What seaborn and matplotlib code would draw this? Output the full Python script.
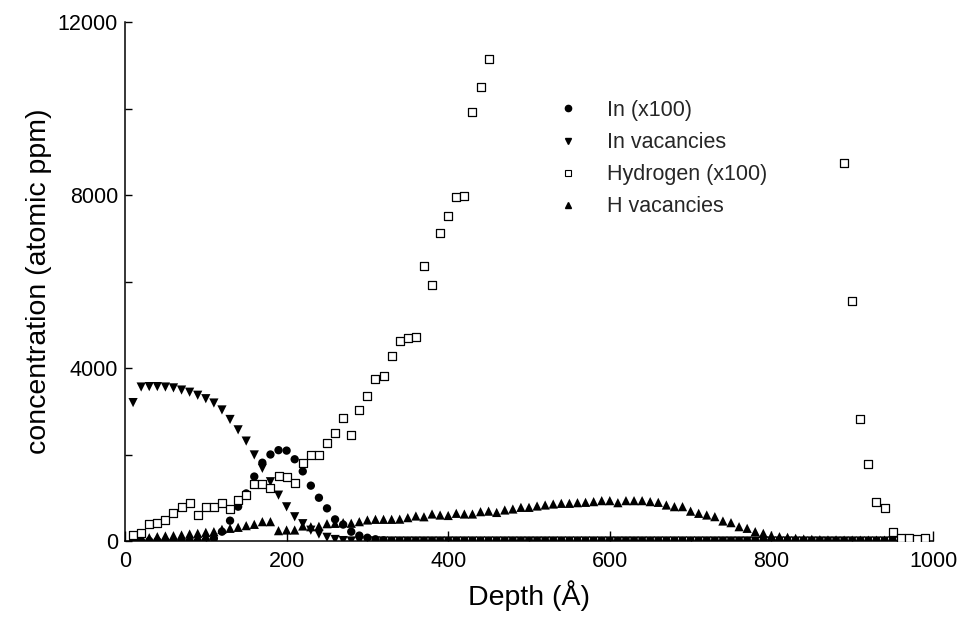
import numpy as np
import pandas as pd
import matplotlib
matplotlib.use("Agg")
import matplotlib.pyplot as plt
import seaborn as sns
from matplotlib.ticker import MultipleLocator
from matplotlib.lines import Line2D

# ---------------- data ----------------
depth_all = list(range(10, 1000, 10))  # 10 ... 990 Å

in_x100 = [0, 0, 0, 0, 0, 0, 0, 0, 0, 20, 60, 216, 470, 794, 1100, 1490, 1810, 2000,
           2100, 2090, 1890, 1610, 1280, 1000, 755, 500, 380, 215, 125, 75, 40, 15] + [0] * 67

in_vac = [3200, 3560, 3570, 3570, 3560, 3540, 3490, 3440, 3370, 3290, 3190, 3030, 2810,
          2570, 2310, 1990, 1680, 1370, 1060, 790, 560, 400, 250, 160, 85, 35, 10] + [0] * 72

h_vac = [46, 62, 77, 100, 116, 123, 139, 162, 177, 200, 216, 270, 293, 316, 355, 385,
         447, 447, 239, 254, 254, 347, 330, 340, 400, 408, 424, 410, 447, 486, 501, 501,
         501, 505, 540, 578, 560, 624, 600, 590, 640, 624, 624, 678, 690, 660, 717, 740,
         778, 778, 809, 832, 855, 871, 871, 886, 894, 910, 933, 933, 886, 933, 933, 933,
         910, 894, 832, 794, 794, 690, 640, 601, 563, 462, 424, 331, 293, 216, 177, 123,
         100, 85, 62, 46, 39, 30, 25, 25, 20, 20, 20, 20, 20, 20, 20, 20, 20, 20, 20]

hyd_depth = [10, 20, 30, 40, 50, 60, 70, 80, 90, 100, 110, 120, 130, 140, 150, 160, 170,
             180, 190, 200, 210, 220, 230, 240, 250, 260, 270, 280, 290, 300, 310, 320,
             330, 340, 350, 360, 370, 380, 390, 400, 410, 420, 430, 440, 450,
             890, 900, 910, 920, 930, 940, 950, 960, 970, 980, 990]
hyd_x100 = [139, 193, 385, 408, 486, 655, 778, 871, 601, 794, 794, 871, 740, 948, 1064,
            1320, 1320, 1220, 1500, 1490, 1350, 1815, 1990, 1990, 2260, 2490, 2850, 2450,
            3030, 3350, 3750, 3815, 4280, 4625, 4700, 4725, 6365, 5920, 7115, 7520, 7945,
            7975, 9910, 10500, 11140,
            8750, 5560, 2815, 1780, 905, 770, 210, 70, 70, 50, 70]

labels = ["In (x100)", "In vacancies", "Hydrogen (x100)", "H vacancies"]
x_ticks = [0, 200, 400, 600, 800, 1000]
y_ticks = [0, 4000, 8000, 12000]

# ---------------- plotting ----------------
sns.set_theme(style="white")
plt.rcParams["font.family"] = ["Liberation Sans", "DejaVu Sans"]

fig = plt.figure(figsize=(9.57, 6.18), dpi=100)
ax = fig.add_axes([125 / 957, 1 - 541 / 618, (933 - 125) / 957, (541 - 22) / 618])

df_in = pd.DataFrame({"depth": depth_all, "conc": in_x100})
df_inv = pd.DataFrame({"depth": depth_all, "conc": in_vac})
df_h = pd.DataFrame({"depth": hyd_depth, "conc": hyd_x100})
df_hv = pd.DataFrame({"depth": depth_all, "conc": h_vac})

sns.scatterplot(data=df_hv, x="depth", y="conc", ax=ax, marker="^", s=44,
                color="black", edgecolor="none", linewidth=0, zorder=3)
sns.scatterplot(data=df_inv, x="depth", y="conc", ax=ax, marker="v", s=44,
                color="black", edgecolor="none", linewidth=0, zorder=3)
sns.scatterplot(data=df_in, x="depth", y="conc", ax=ax, marker="o", s=36,
                color="black", edgecolor="none", linewidth=0, zorder=4)
sns.scatterplot(data=df_h, x="depth", y="conc", ax=ax, marker="s", s=26,
                facecolor="white", edgecolor="black", linewidth=0.9, zorder=5)

ax.set_xlim(0, 1000)
ax.set_ylim(0, 12000)
ax.set_xticks(x_ticks)
ax.set_xticklabels([str(t) for t in x_ticks])
ax.set_yticks(y_ticks)
ax.set_yticklabels([str(t) for t in y_ticks])
ax.xaxis.set_minor_locator(MultipleLocator(100))
ax.yaxis.set_minor_locator(MultipleLocator(2000))
ax.tick_params(axis="both", which="both", bottom=True, left=True, top=False, right=False,
               direction="in", width=1, color="black")
ax.tick_params(axis="x", which="major", length=7, labelsize=15.5, pad=7, labelcolor="black")
ax.tick_params(axis="x", which="minor", length=3)
ax.tick_params(axis="y", which="major", length=5, labelsize=15.5, pad=5, labelcolor="black")
ax.tick_params(axis="y", which="minor", length=5)
for side in ["top", "right"]:
    ax.spines[side].set_visible(False)
for side in ["left", "bottom"]:
    ax.spines[side].set_color("black")
    ax.spines[side].set_linewidth(1.1)

ax.set_xlabel("Depth (Å)", fontsize=20.5, color="black", labelpad=6)
ax.set_ylabel("concentration (atomic ppm)", fontsize=20.5, color="black", labelpad=4)
ax.grid(False)

handles = [
    Line2D([], [], linestyle="none", marker="o", markersize=4.5, color="black"),
    Line2D([], [], linestyle="none", marker="v", markersize=5, color="black"),
    Line2D([], [], linestyle="none", marker="s", markersize=4.5,
           markerfacecolor="white", markeredgecolor="black", markeredgewidth=0.8),
    Line2D([], [], linestyle="none", marker="^", markersize=5, color="black"),
]
ax.legend(handles, labels, loc="upper left", bbox_to_anchor=(0.535, 0.85),
          frameon=False, fontsize=15.5, labelspacing=0.52, handlelength=1.0,
          handletextpad=1.3, borderpad=0, borderaxespad=0)

fig.savefig("out.png", dpi=100)
